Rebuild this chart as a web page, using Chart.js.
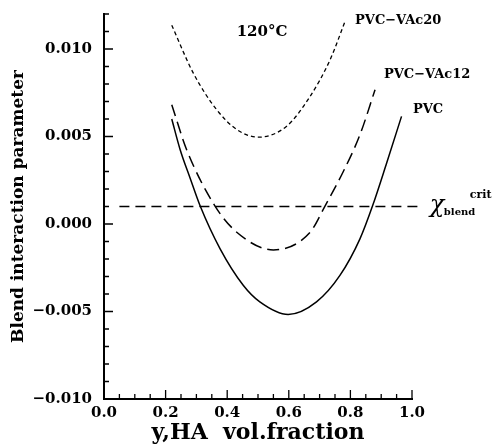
<!DOCTYPE html>
<html lang="en">
  <head>
    <meta charset="utf-8" />
    <title>Blend interaction parameter</title>
    <script src="https://cdn.jsdelivr.net/npm/chart.js"></script>
    <style>
      html, body { margin: 0; padding: 0; background: #fff; }
    </style>
  </head>
  <body>
    <canvas id="myChart" width="498" height="446"></canvas>

    <script>
      // values (x = HA vol. fraction, y = interaction parameter)
      var pvcX = [0.22, 0.247, 0.28, 0.312, 0.377, 0.452, 0.506, 0.598, 0.69, 0.766, 0.831, 0.872, 0.918, 0.966];
      var pvcY = [0.0060, 0.00426, 0.0026, 0.00104, -0.00142, -0.0035, -0.00445, -0.00517, -0.00445, -0.00294, -0.00085, 0.00104, 0.0035, 0.00615];

      var vac12X = [0.22, 0.268, 0.36, 0.431, 0.55, 0.669, 0.718, 0.777, 0.831, 0.88];
      var vac12Y = [0.00682, 0.00426, 0.00104, -0.00047, -0.00148, -0.00047, 0.00104, 0.0030, 0.0051, 0.00767];

      var vac20X = [0.22, 0.29, 0.366, 0.431, 0.501, 0.593, 0.669, 0.734, 0.782];
      var vac20Y = [0.01136, 0.00862, 0.00653, 0.0054, 0.00496, 0.00559, 0.00729, 0.00938, 0.01155];

      var critX = [0.05, 1.035];
      var critY = [0.001, 0.001];

      var xMin = 0.0, xMax = 1.0, xStep = 0.05, xMajor = 0.2;
      var yMin = -0.010, yMax = 0.012, yStep = 0.001, yMajor = 0.005;

      let toPoints = (xs, ys) => xs.map((x, i) => ({ x: x, y: ys[i] }));

      let isMult = (v, m) => Math.abs(v / m - Math.round(v / m)) < 1e-6;

      let fmt = (v, d) => {
        let s = Math.abs(v).toFixed(d);
        return v < -1e-9 ? "\u2212" + s : s;
      };

      // text placed on the plot, in data units
      let notes = [
        { text: "120\u00b0C", x: 0.513, y: 0.01097, size: 15, align: "center" },
        { text: "PVC\u2212VAc20", x: 0.815, y: 0.01165, size: 13, align: "left" },
        { text: "PVC\u2212VAc12", x: 0.909, y: 0.00852, size: 13, align: "left" },
        { text: "PVC", x: 1.003, y: 0.00653, size: 13, align: "left" },
      ];

      let inwardTicks = {
        id: "inwardTicks",
        afterDraw: (chart) => {
          let ctx = chart.ctx;
          let area = chart.chartArea;
          let xs = chart.scales.x;
          let ys = chart.scales.y;
          ctx.save();
          ctx.strokeStyle = "#000";
          ctx.lineWidth = 1.3;
          ctx.beginPath();
          ys.ticks.forEach((t) => {
            let py = ys.getPixelForValue(t.value);
            let len = isMult(t.value, yMajor) ? 9 : 5;
            ctx.moveTo(area.left, py);
            ctx.lineTo(area.left + len, py);
          });
          xs.ticks.forEach((t) => {
            let px = xs.getPixelForValue(t.value);
            let len = isMult(t.value, xMajor) ? 9 : 5;
            ctx.moveTo(px, area.bottom);
            ctx.lineTo(px, area.bottom - len);
          });
          ctx.stroke();

          // labels
          ctx.fillStyle = "#000";
          ctx.textBaseline = "middle";
          notes.forEach((n) => {
            ctx.font = "bold " + n.size + "px 'DejaVu Serif'";
            ctx.textAlign = n.align;
            ctx.fillText(n.text, xs.getPixelForValue(n.x), ys.getPixelForValue(n.y));
          });

          // chi_blend^crit
          let cx = xs.getPixelForValue(1.058);
          let cy = ys.getPixelForValue(0.001);
          ctx.textAlign = "left";
          ctx.font = "italic 24px 'DejaVu Serif'";
          ctx.fillText("\u03c7", cx, cy - 1);
          ctx.font = "bold 10px 'DejaVu Serif'";
          ctx.fillText("blend", cx + 14, cy + 6);
          ctx.font = "bold 11px 'DejaVu Serif'";
          ctx.fillText("crit", cx + 40, cy - 11);
          ctx.restore();
        },
      };

      let serif = "'DejaVu Serif'";

      let chart = new Chart(document.getElementById("myChart"), {
        type: "scatter",
        data: {
          datasets: [
            {
              label: "PVC",
              data: toPoints(pvcX, pvcY),
              showLine: true,
              borderColor: "#000",
              borderWidth: 1.5,
              pointRadius: 0,
              cubicInterpolationMode: "monotone",
              fill: false,
            },
            {
              label: "PVC-VAc12",
              data: toPoints(vac12X, vac12Y),
              showLine: true,
              borderColor: "#000",
              borderWidth: 1.5,
              borderDash: [12, 6],
              pointRadius: 0,
              cubicInterpolationMode: "monotone",
              fill: false,
            },
            {
              label: "PVC-VAc20",
              data: toPoints(vac20X, vac20Y),
              showLine: true,
              borderColor: "#000",
              borderWidth: 1.3,
              borderDash: [4, 3],
              pointRadius: 0,
              cubicInterpolationMode: "monotone",
              fill: false,
            },
            {
              label: "crit",
              data: toPoints(critX, critY),
              showLine: true,
              borderColor: "#000",
              borderWidth: 1.3,
              borderDash: [10, 6],
              pointRadius: 0,
              fill: false,
              clip: false,
            },
          ],
        },
        options: {
          responsive: false,
          animation: false,
          devicePixelRatio: 1,
          layout: { padding: { left: 0, right: 86, top: 14, bottom: 0 } },
          plugins: {
            legend: { display: false },
            tooltip: { enabled: false },
          },
          scales: {
            x: {
              type: "linear",
              min: xMin,
              max: xMax,
              afterFit: (scale) => {
                scale.height = 47;
                scale.paddingLeft = 0;
                scale.paddingRight = 0;
              },
              border: { display: true, color: "#000", width: 2 },
              grid: { display: false, drawTicks: false },
              ticks: {
                stepSize: xStep,
                autoSkip: false,
                maxRotation: 0,
                padding: 5,
                color: "#000",
                font: { family: serif, size: 15, weight: "bold" },
                callback: (v) => (isMult(v, xMajor) ? fmt(v, 1) : ""),
              },
              title: {
                display: true,
                text: "y,HA  vol.fraction",
                color: "#000",
                font: { family: serif, size: 22, weight: "bold" },
                padding: { top: 0, bottom: 0 },
              },
            },
            y: {
              type: "linear",
              min: yMin,
              max: yMax,
              afterFit: (scale) => {
                scale.width = 104;
                scale.paddingTop = 0;
                scale.paddingBottom = 0;
              },
              border: { display: true, color: "#000", width: 2 },
              grid: { display: false, drawTicks: false },
              ticks: {
                stepSize: yStep,
                autoSkip: false,
                padding: 12,
                color: "#000",
                font: { family: serif, size: 15, weight: "bold" },
                callback: (v) => (isMult(v, yMajor) ? fmt(v, 3) : ""),
              },
              title: {
                display: true,
                text: "Blend interaction parameter",
                color: "#000",
                font: { family: serif, size: 17, weight: "bold" },
                padding: { top: 8, bottom: 0 },
              },
            },
          },
        },
        plugins: [inwardTicks],
      });
    </script>
  </body>
</html>
